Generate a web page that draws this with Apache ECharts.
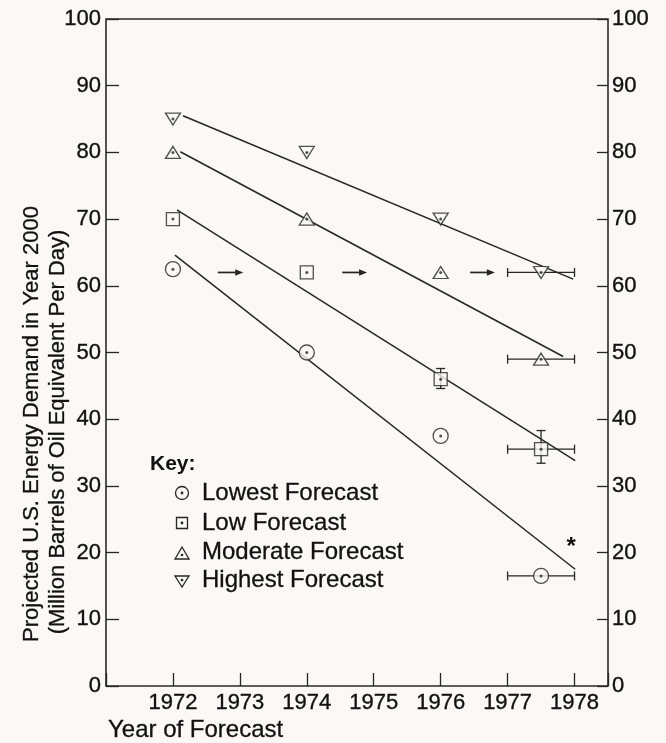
<!DOCTYPE html>
<html>
<head>
<meta charset="utf-8">
<script src="https://cdn.jsdelivr.net/npm/echarts@6/dist/echarts.min.js"></script>
<style>
  html, body { margin: 0; padding: 0; background: #fbf8f5; }
  #chart { width: 666px; height: 743px; }
</style>
</head>
<body>
<div id="chart"></div>
<script>
// Year in which each forecast was made
const forecastYears = [1972, 1974, 1976, 1977.5];

// Projected demand in year 2000 (million barrels of oil equivalent per day)
const lowestForecast = [62.5, 50, 37.5, 16.5];
const lowForecast = [70, 62, 46, 35.5];
const moderateForecast = [80, 70, 62, 49];
const highestForecast = [85, 80, 70, 62];

// Fitted trend lines: [year, value] at each end
const lowestTrend = [[1972.03, 64.6], [1978.01, 17.5]];
const lowTrend = [[1972.06, 71.4], [1978.01, 33.8]];
const moderateTrend = [[1972.11, 80.1], [1977.83, 49.4]];
const highestTrend = [[1972.15, 85.5], [1977.98, 61.0]];

// Horizontal ranges: [year, value, fromYear, toYear]
const yearRanges = [
  [1977.5, 62, 1977, 1978],
  [1977.5, 49, 1977, 1978],
  [1977.5, 35.5, 1977, 1978],
  [1977.5, 16.5, 1977, 1978]
];
// Vertical ranges: [year, value, low, high]
const valueRanges = [
  [1976, 46, 44.6, 47.6],
  [1977.5, 35.5, 33.4, 38.3]
];
// Arrows showing the shift of the lowest forecast: [fromYear, toYear, value]
const shiftArrows = [
  [1972.67, 1973.05, 62],
  [1974.53, 1974.9, 62],
  [1976.44, 1976.81, 62]
];
// Footnote mark
const noteMarks = [[1977.95, 21.5]];

// Tick labels
const yearTickLabels = [1972, 1973, 1974, 1975, 1976, 1977, 1978];
const demandTickLabels = [0, 10, 20, 30, 40, 50, 60, 70, 80, 90, 100];

const INK = '#262626';
const TEXT = '#111111';
const BG = '#fbf8f5';
const FONT = '"Liberation Sans", Arial, Helvetica, sans-serif';

const pairs = (vals) => forecastYears.map((y, i) => [y, vals[i]]);

function markerSeries(name, vals, symbol, size, rotate) {
  return {
    name: name,
    type: 'scatter',
    data: pairs(vals),
    symbol: symbol,
    symbolSize: size,
    symbolRotate: rotate || 0,
    itemStyle: { color: BG, borderColor: INK, borderWidth: 1.3 },
    z: 4,
    silent: true
  };
}
function dotSeries(vals) {
  return {
    type: 'scatter',
    data: pairs(vals),
    symbol: 'circle',
    symbolSize: 3,
    itemStyle: { color: INK },
    z: 5,
    silent: true
  };
}
function trendSeries(points) {
  return {
    type: 'line',
    data: points,
    symbol: 'none',
    lineStyle: { color: INK, width: 1.5 },
    z: 2,
    silent: true
  };
}

// slightly heavier text, like the printed type
const heavy = { textBorderColor: TEXT, textBorderWidth: 0.35 };

const chart = echarts.init(document.getElementById('chart'), null, { renderer: 'canvas' });

const option = {
  backgroundColor: BG,
  animation: false,
  grid: {
    left: 106, top: 19, width: 502, height: 667,
    show: true, borderColor: '#2a2a2a', borderWidth: 1.6, backgroundColor: 'transparent'
  },
  xAxis: {
    type: 'value',
    min: 1971, max: 1978.5, interval: 1,
    axisLine: { show: false },
    splitLine: { show: false },
    axisTick: { inside: true, length: 13, lineStyle: { color: INK, width: 1.3 } },
    axisLabel: Object.assign({
      margin: 6,
      color: TEXT, fontFamily: FONT, fontSize: 22,
      formatter: (v) => (yearTickLabels.includes(v) ? String(v) : '')
    }, heavy)
  },
  yAxis: [
    {
      type: 'value', position: 'left',
      min: 0, max: 100, interval: 10,
      axisLine: { show: false },
      splitLine: { show: false },
      axisTick: { inside: true, length: 13, lineStyle: { color: INK, width: 1.3 } },
      axisLabel: Object.assign({
        margin: 5, color: TEXT, fontFamily: FONT, fontSize: 22,
        formatter: (v) => (demandTickLabels.includes(v) ? String(v) : '')
      }, heavy)
    },
    {
      type: 'value', position: 'right',
      min: 0, max: 100, interval: 10,
      axisLine: { show: false },
      splitLine: { show: false },
      axisTick: { inside: true, length: 11, lineStyle: { color: INK, width: 1.3 } },
      axisLabel: Object.assign({
        margin: 4, color: TEXT, fontFamily: FONT, fontSize: 22,
        formatter: (v) => (demandTickLabels.includes(v) ? String(v) : '')
      }, heavy)
    }
  ],
  series: [
    trendSeries(lowestTrend),
    trendSeries(lowTrend),
    trendSeries(moderateTrend),
    trendSeries(highestTrend),
    {
      type: 'custom',
      data: yearRanges,
      z: 3, silent: true,
      renderItem: (params, api) => {
        const a = api.coord([api.value(2), api.value(1)]);
        const b = api.coord([api.value(3), api.value(1)]);
        const st = { stroke: INK, lineWidth: 1.3 };
        return {
          type: 'group',
          children: [
            { type: 'line', shape: { x1: a[0], y1: a[1], x2: b[0], y2: b[1] }, style: st },
            { type: 'line', shape: { x1: a[0], y1: a[1] - 4.5, x2: a[0], y2: a[1] + 4.5 }, style: st },
            { type: 'line', shape: { x1: b[0], y1: b[1] - 4.5, x2: b[0], y2: b[1] + 4.5 }, style: st }
          ]
        };
      }
    },
    {
      type: 'custom',
      data: valueRanges,
      z: 3, silent: true,
      renderItem: (params, api) => {
        const a = api.coord([api.value(0), api.value(2)]);
        const b = api.coord([api.value(0), api.value(3)]);
        const st = { stroke: INK, lineWidth: 1.3 };
        return {
          type: 'group',
          children: [
            { type: 'line', shape: { x1: a[0], y1: a[1], x2: b[0], y2: b[1] }, style: st },
            { type: 'line', shape: { x1: a[0] - 4.5, y1: a[1], x2: a[0] + 4.5, y2: a[1] }, style: st },
            { type: 'line', shape: { x1: b[0] - 4.5, y1: b[1], x2: b[0] + 4.5, y2: b[1] }, style: st }
          ]
        };
      }
    },
    {
      type: 'custom',
      data: shiftArrows,
      z: 3, silent: true,
      renderItem: (params, api) => {
        const a = api.coord([api.value(0), api.value(2)]);
        const b = api.coord([api.value(1), api.value(2)]);
        const head = 8, half = 3.2;
        return {
          type: 'group',
          children: [
            { type: 'line', shape: { x1: a[0], y1: a[1], x2: b[0] - head + 1, y2: b[1] },
              style: { stroke: INK, lineWidth: 1.7 } },
            { type: 'polygon',
              shape: { points: [[b[0], b[1]], [b[0] - head, b[1] - half], [b[0] - head, b[1] + half]] },
              style: { fill: INK } }
          ]
        };
      }
    },
    {
      type: 'custom',
      data: noteMarks,
      z: 3, silent: true,
      renderItem: (params, api) => {
        const p = api.coord([api.value(0), api.value(1)]);
        return {
          type: 'text', x: p[0], y: p[1] + 5,
          style: { text: '*', font: 'bold 24px ' + FONT, fill: TEXT, align: 'center', verticalAlign: 'middle' }
        };
      }
    },
    markerSeries('Lowest Forecast', lowestForecast, 'circle', 15),
    markerSeries('Low Forecast', lowForecast, 'rect', 13),
    markerSeries('Moderate Forecast', moderateForecast, 'triangle', [15, 12]),
    markerSeries('Highest Forecast', highestForecast, 'triangle', [15, 12], 180),
    dotSeries(lowestForecast),
    dotSeries(lowForecast),
    dotSeries(moderateForecast),
    dotSeries(highestForecast)
  ],
  graphic: [
    // axis titles
    {
      type: 'text', x: 32, y: 424, rotation: Math.PI / 2,
      style: Object.assign({ text: 'Projected U.S. Energy Demand in Year 2000', font: '22px ' + FONT, fill: TEXT,
               align: 'center', verticalAlign: 'middle' }, { stroke: TEXT, lineWidth: 0.3 })
    },
    {
      type: 'text', x: 58, y: 432, rotation: Math.PI / 2,
      style: Object.assign({ text: '(Million Barrels of Oil Equivalent Per Day)', font: '22px ' + FONT, fill: TEXT,
               align: 'center', verticalAlign: 'middle' }, { stroke: TEXT, lineWidth: 0.3 })
    },
    {
      type: 'text', x: 108, y: 730,
      style: { text: 'Year of Forecast', font: '24px ' + FONT, fill: TEXT, align: 'left', verticalAlign: 'middle',
               stroke: TEXT, lineWidth: 0.3 }
    },
    // key
    {
      type: 'text', x: 150, y: 464,
      style: { text: 'Key:', font: 'bold 21px ' + FONT, fill: TEXT, align: 'left', verticalAlign: 'middle' }
    },
    { type: 'circle', shape: { cx: 182, cy: 493, r: 6.5 }, style: { fill: 'none', stroke: INK, lineWidth: 1.3 } },
    { type: 'circle', shape: { cx: 182, cy: 493, r: 1.4 }, style: { fill: INK } },
    { type: 'text', x: 202, y: 493,
      style: { text: 'Lowest Forecast', font: '24px ' + FONT, fill: TEXT, align: 'left', verticalAlign: 'middle',
               stroke: TEXT, lineWidth: 0.3 } },
    { type: 'rect', shape: { x: 176.5, y: 517.5, width: 11, height: 11 }, style: { fill: 'none', stroke: INK, lineWidth: 1.3 } },
    { type: 'circle', shape: { cx: 182, cy: 523, r: 1.4 }, style: { fill: INK } },
    { type: 'text', x: 202, y: 523,
      style: { text: 'Low Forecast', font: '24px ' + FONT, fill: TEXT, align: 'left', verticalAlign: 'middle',
               stroke: TEXT, lineWidth: 0.3 } },
    { type: 'polygon', shape: { points: [[182, 547], [175, 559], [189, 559]] }, style: { fill: 'none', stroke: INK, lineWidth: 1.3 } },
    { type: 'circle', shape: { cx: 182, cy: 555, r: 1.3 }, style: { fill: INK } },
    { type: 'text', x: 202, y: 552.5,
      style: { text: 'Moderate Forecast', font: '24px ' + FONT, fill: TEXT, align: 'left', verticalAlign: 'middle',
               stroke: TEXT, lineWidth: 0.3 } },
    { type: 'polygon', shape: { points: [[175, 576], [189, 576], [182, 587]] }, style: { fill: 'none', stroke: INK, lineWidth: 1.3 } },
    { type: 'circle', shape: { cx: 182, cy: 580, r: 1.3 }, style: { fill: INK } },
    { type: 'text', x: 202, y: 580.5,
      style: { text: 'Highest Forecast', font: '24px ' + FONT, fill: TEXT, align: 'left', verticalAlign: 'middle',
               stroke: TEXT, lineWidth: 0.3 } }
  ]
};

chart.setOption(option);
</script>
</body>
</html>
